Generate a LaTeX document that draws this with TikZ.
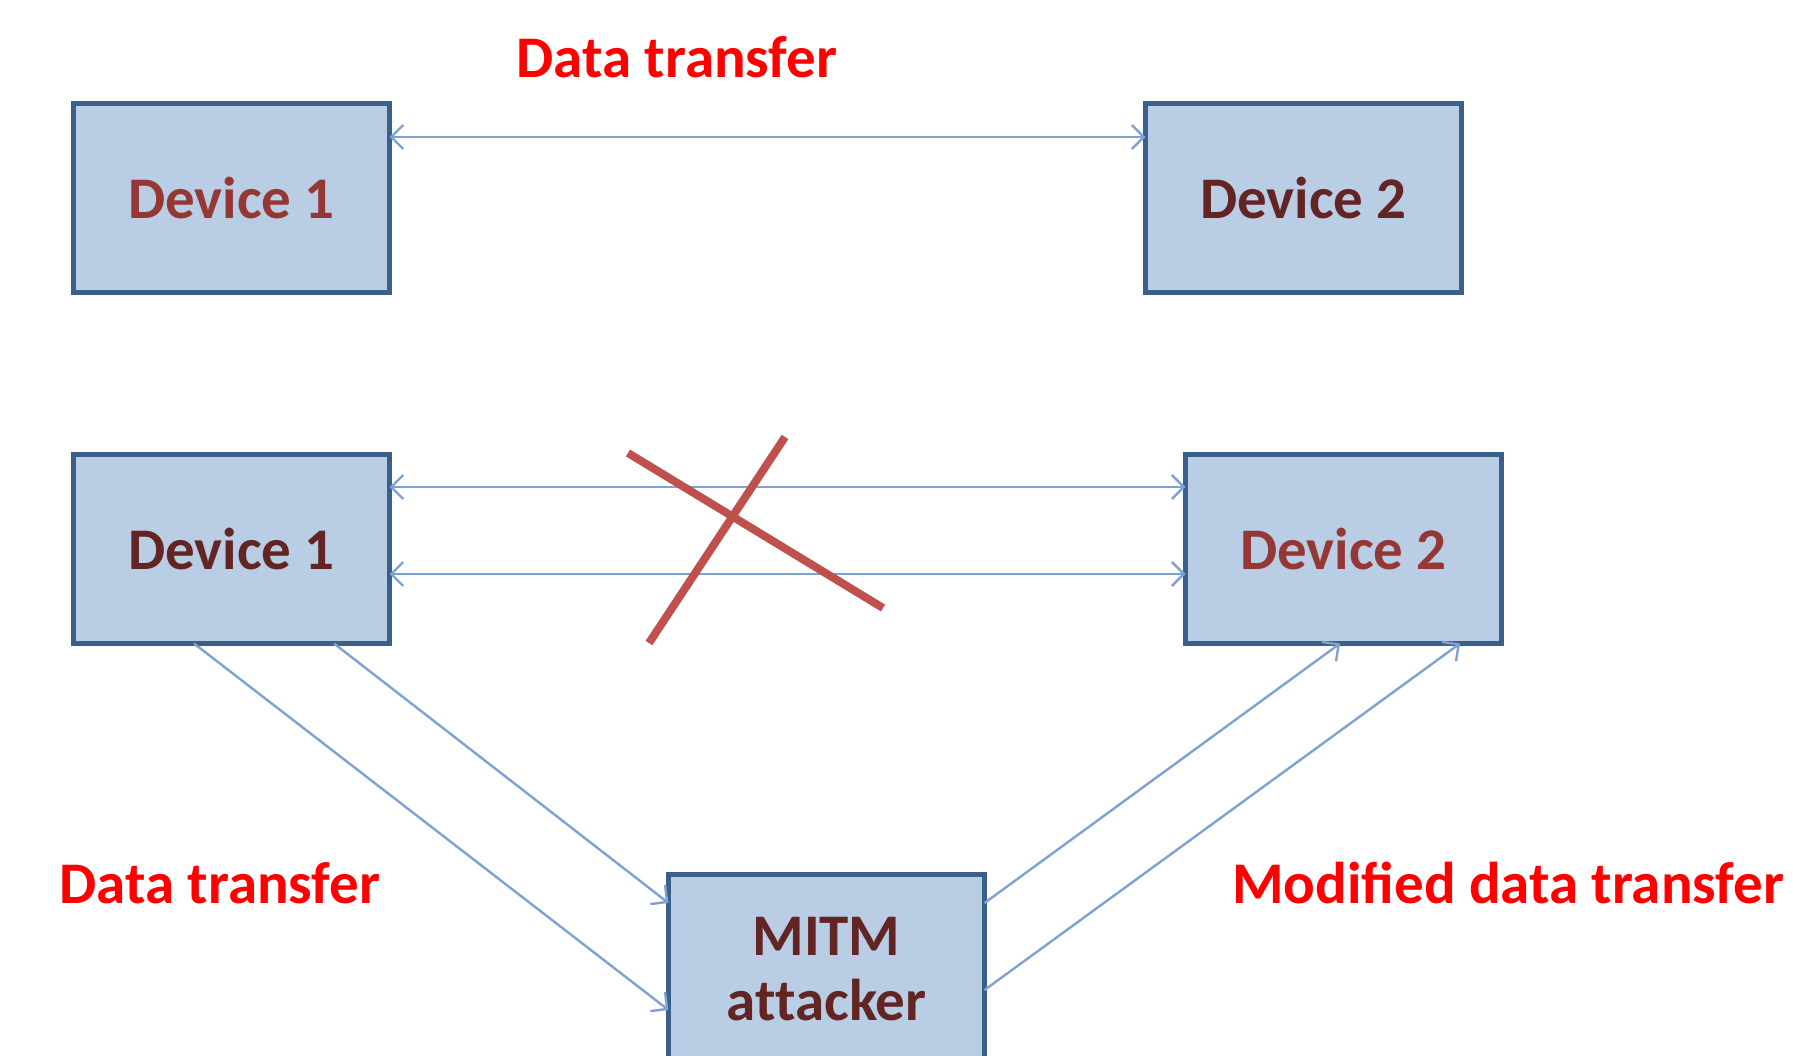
\documentclass[tikz,border=0pt]{standalone}
\usepackage{fontspec}
\setmainfont{Carlito}
\usetikzlibrary{arrows.meta}
\definecolor{boxfill}{HTML}{B9CDE5}
\definecolor{boxdraw}{HTML}{3A5F8B}
\definecolor{arrowc}{HTML}{7EA3D2}
\definecolor{crossc}{HTML}{C0504D}
\definecolor{txtlight}{HTML}{953735}
\definecolor{txtdark}{HTML}{632523}
\definecolor{lblred}{HTML}{FF0000}
\tikzset{
  devbox/.style={draw=boxdraw, line width=5pt, fill=boxfill, minimum width=316pt, minimum height=189pt, inner sep=0pt, outer sep=0pt, align=center, font=\bfseries\fontsize{59}{65}\selectfont},
  lbl/.style={text=lblred, font=\bfseries\fontsize{59}{65}\selectfont, inner sep=0pt},
  link/.style={draw=arrowc, line width=2.4pt, {Straight Barb[length=12pt,width=24pt,line width=2.4pt]}-{Straight Barb[length=12pt,width=24pt,line width=2.4pt]}},
  flow/.style={draw=arrowc, line width=2.4pt, -{Straight Barb[length=12pt,width=24pt,line width=2.4pt]}},
  crossline/.style={draw=crossc, line width=8pt}
}
\begin{document}
\begin{tikzpicture}[x=1pt,y=-1pt]
\path[use as bounding box] (0,0) rectangle (1793,1056);
\clip (0,0) rectangle (1793,1056);
\fill[white] (0,0) rectangle (1793,1056);
% top row
\node[devbox, text=txtlight] (d1t) at (231.5,198) {Device 1};
\node[devbox, text=txtdark] (d2t) at (1303.5,198) {Device 2};
\node[lbl] (lt) at (677,57) {Data transfer};
\draw[link] ([yshift=61pt]d1t.east) -- ([yshift=61pt]d2t.west);
% bottom row
\node[devbox, text=txtdark] (d1b) at (231.5,549) {Device 1};
\node[devbox, text=txtlight] (d2b) at (1343.5,549) {Device 2};
\node[devbox, text=txtdark] (mitm) at (826.5,969) {MITM\\at\kern0pt tacker};
\draw[link] ([yshift=62pt]d1b.east) -- ([yshift=62pt]d2b.west);
\draw[link] ([yshift=-25pt]d1b.east) -- ([yshift=-25pt]d2b.west);
% cross
\coordinate (xa) at (628,453);
\coordinate (xb) at (883,608);
\coordinate (xc) at (649,643);
\coordinate (xd) at (785,437);
\draw[crossline] (xa) -- (xb);
\draw[crossline] (xc) -- (xd);
% diagonal flows
\draw[flow] ([xshift=-37.5pt]d1b.south) -- ([yshift=-41pt]mitm.west);
\draw[flow] ([xshift=102.5pt]d1b.south) -- ([yshift=66pt]mitm.west);
\draw[flow] ([yshift=66pt]mitm.east) -- ([xshift=-3.5pt]d2b.south);
\draw[flow] ([yshift=-21pt]mitm.east) -- ([xshift=116.5pt]d2b.south);
% labels
\node[lbl] (ll) at (220,883) {Data transfer};
\node[lbl] (lr) at (1508,883) {Modified data transfer};
\end{tikzpicture}
\end{document}
